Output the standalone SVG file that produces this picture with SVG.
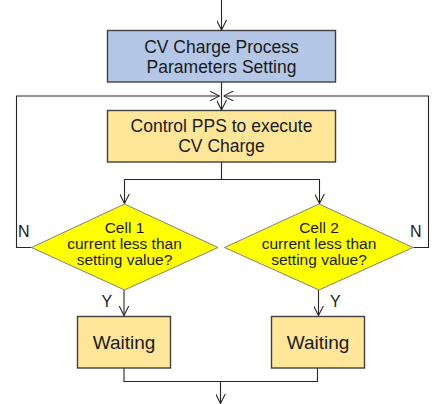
<svg xmlns="http://www.w3.org/2000/svg" width="437" height="404" viewBox="0 0 437 404">
  <defs>
    <marker id="arrow" viewBox="0 0 10 10" refX="10" refY="5" markerWidth="10" markerHeight="10" markerUnits="userSpaceOnUse" orient="auto">
      <path d="M0,0 L10,5 L0,10" fill="none" stroke="#262626" stroke-width="1.1"/>
    </marker>
    <style>
      .box { stroke: #404040; stroke-width: 1.4; }
      .blue { fill: #B4C7E7; }
      .amber { fill: #FFE699; }
      .dia { fill: #FFFF00; stroke: #7F7F7F; stroke-width: 1; }
      .lbl { font-family: "Liberation Sans", Arial, sans-serif; font-size: 17.5px; fill: #1a1a1a; text-anchor: middle; }
      .small { font-size: 15.5px; }
      .big { font-size: 19px; }
      .edge { fill: none; stroke: #262626; stroke-width: 1.1; }
      .tag { font-family: "Liberation Sans", Arial, sans-serif; font-size: 16px; fill: #1a1a1a; }
    </style>
  </defs>

  <g id="connectors">
    <!-- entry arrow -->
    <path class="edge" d="M221.5,0 V30" marker-end="url(#arrow)"/>
    <!-- setting -> control -->
    <path class="edge" d="M221.5,82 V110" marker-end="url(#arrow)"/>
    <!-- control -> both decisions -->
    <path class="edge" d="M221.5,162 V179.5 H124.5 V203.5" marker-end="url(#arrow)"/>
    <path class="edge" d="M221.5,179.5 H319.5 V203.5" marker-end="url(#arrow)"/>
    <!-- N loops back to control -->
    <path class="edge" d="M31.5,247.5 H16.5 V96 H219.5" marker-end="url(#arrow)"/>
    <path class="edge" d="M413.5,247.5 H428.5 V96 H223.5" marker-end="url(#arrow)"/>
    <!-- Y -> waiting -->
    <path class="edge" d="M124,290 V315.5" marker-end="url(#arrow)"/>
    <path class="edge" d="M318.5,290 V315.5" marker-end="url(#arrow)"/>
    <!-- waiting -> merge -> exit -->
    <path class="edge" d="M124,368 V381.5 H317.5 V368"/>
    <path class="edge" d="M220.5,381.5 V403.5" marker-end="url(#arrow)"/>
    <text class="tag" x="18" y="237">N</text>
    <text class="tag" x="410" y="237">N</text>
    <text class="tag" x="101.5" y="306.5">Y</text>
    <text class="tag" x="330" y="306.5">Y</text>
  </g>

  <g id="setting">
    <rect class="box blue" x="107.5" y="30.5" width="228" height="51.5"/>
    <text class="lbl" x="221.5" y="53">CV Charge Process</text>
    <text class="lbl" x="221.5" y="72.5">Parameters Setting</text>
  </g>

  <g id="control">
    <rect class="box amber" x="107.5" y="110.5" width="228" height="51.5"/>
    <text class="lbl" x="221.5" y="132">Control PPS to execute</text>
    <text class="lbl" x="221.5" y="151.5">CV Charge</text>
  </g>

  <g id="cell1">
    <polygon class="dia" points="124.5,204 218,247.5 124.5,290 31.5,247.5"/>
    <text class="lbl small" x="124.5" y="233">Cell 1</text>
    <text class="lbl small" x="124.5" y="249">current less than</text>
    <text class="lbl small" x="124.5" y="264.5">setting value?</text>
  </g>

  <g id="cell2">
    <polygon class="dia" points="319,204 413,247.5 319,290 224.5,247.5"/>
    <text class="lbl small" x="319" y="233">Cell 2</text>
    <text class="lbl small" x="319" y="249">current less than</text>
    <text class="lbl small" x="319" y="264.5">setting value?</text>
  </g>

  <g id="wait1">
    <rect class="box amber" x="77.5" y="316.5" width="93" height="51.5"/>
    <text class="lbl big" x="124" y="348.5">Waiting</text>
  </g>

  <g id="wait2">
    <rect class="box amber" x="271.5" y="316.5" width="93" height="51.5"/>
    <text class="lbl big" x="318" y="348.5">Waiting</text>
  </g>
</svg>
